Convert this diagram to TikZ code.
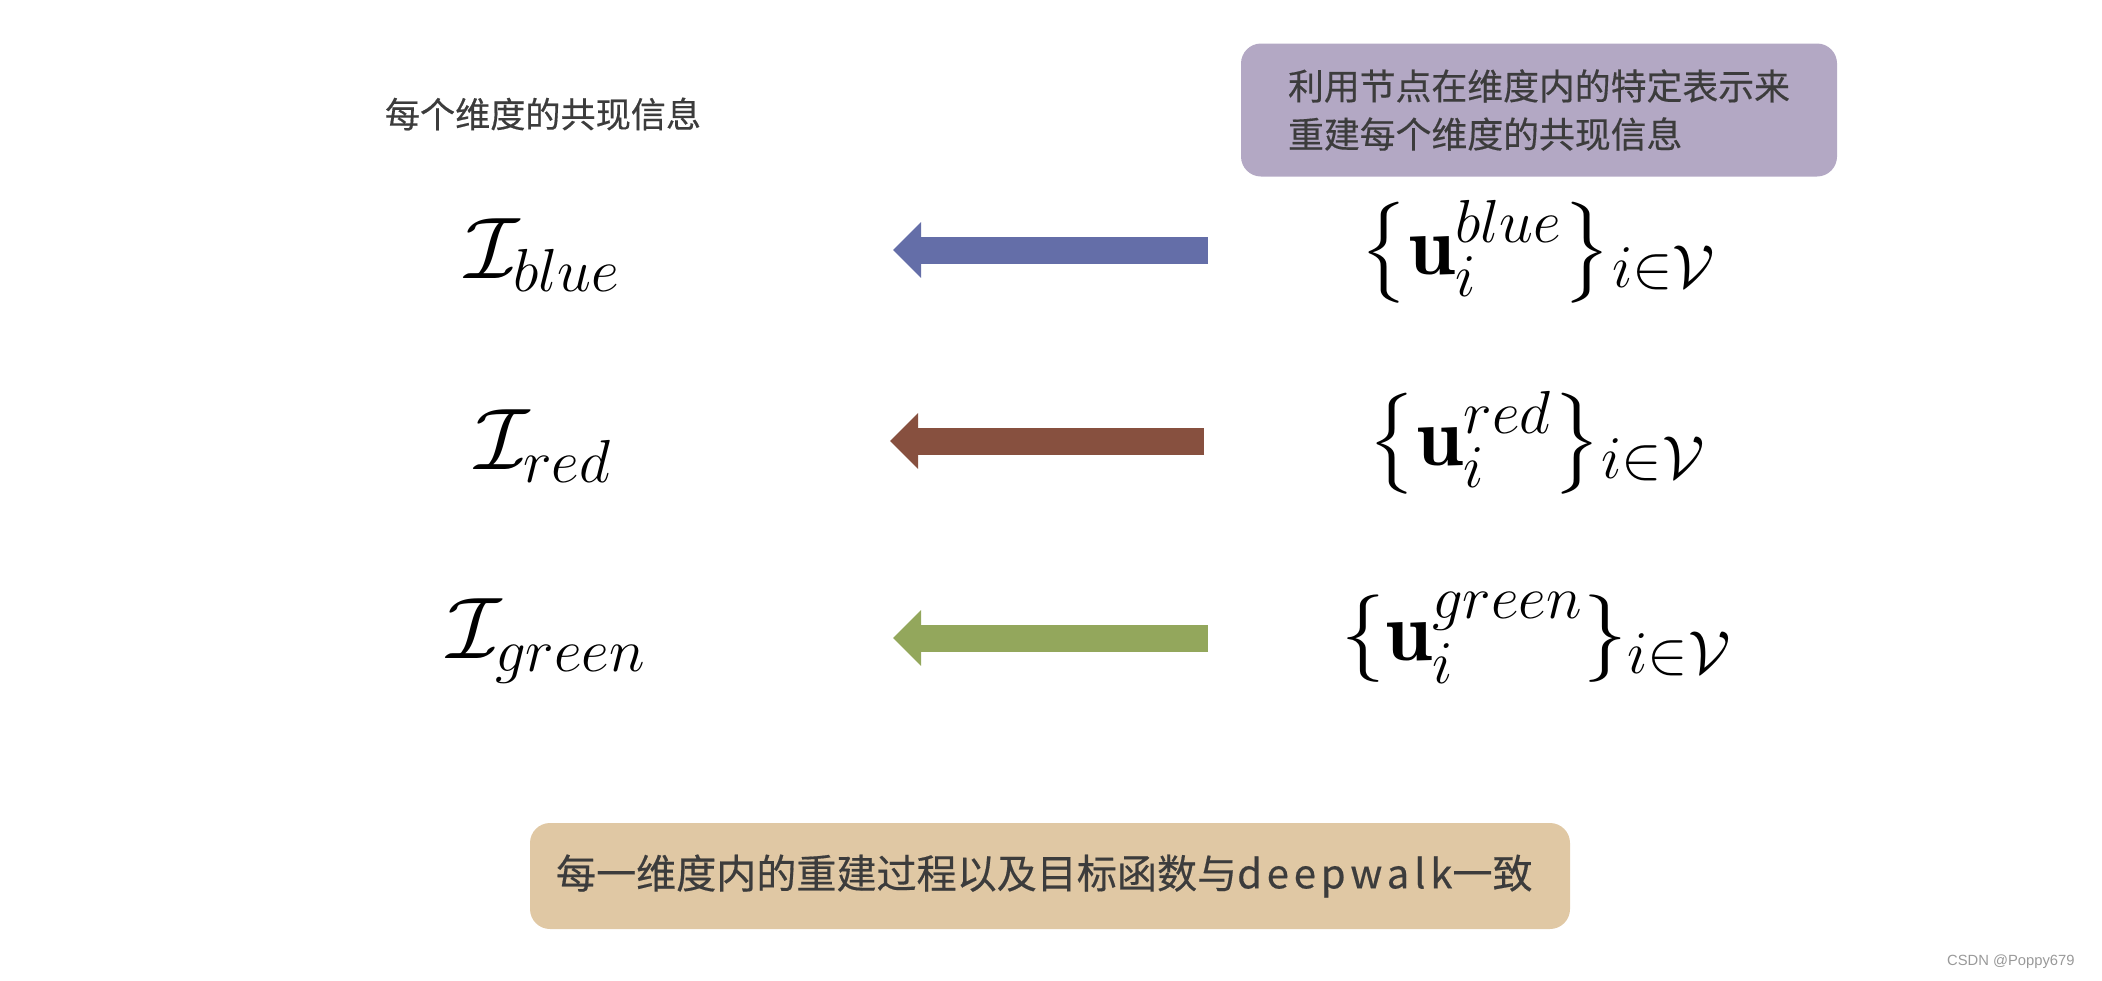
\documentclass[tikz,border=0pt]{standalone}
\usepackage{amsmath,amssymb}
\usepackage{fontspec}
\usepackage{xcolor}
\usetikzlibrary{arrows.meta}
\newfontfamily\cjk[FakeBold=0.4]{Noto Sans CJK SC}
\newfontfamily\wmfont{Liberation Sans}

\definecolor{boxPurple}{HTML}{B3A8C4}
\definecolor{boxTan}{HTML}{E0C8A4}
\definecolor{arrBlue}{HTML}{646EA8}
\definecolor{arrRed}{HTML}{87503F}
\definecolor{arrGreen}{HTML}{93A75C}
\definecolor{txtGray}{HTML}{3C3C3C}

\tikzset{
  bigmath/.style={font=\fontsize{24}{28}\selectfont, inner sep=0pt},
  cnbox/.style={rounded corners=2mm, inner sep=0pt, text=txtGray},
  blockarrow/.style={line width=2.7mm, -{Triangle[length=2.8mm, width=5.4mm]}},
}

\begin{document}
\begin{tikzpicture}
  \useasboundingbox (0,0) rectangle (21.02,9.80);

  % Heading on the left
  \node[font=\cjk\fontsize{10}{12}\selectfont, text=txtGray] (head) at (5.43,8.66) {每个维度的共现信息};

  % Purple note box
  \node[cnbox, fill=boxPurple, minimum width=5.96cm, minimum height=1.33cm, align=left,
        font=\cjk\fontsize{10.2}{13.7}\selectfont] (note) at (15.39,8.70)
        {利用节点在维度内的特定表示来\\重建每个维度的共现信息};

  % Co-occurrence information per dimension
  \node[bigmath] (iBlue) at (5.43,7.25) {$\mathcal{I}_{blue}$};
  \node[bigmath] (iRed) at (5.44,5.34) {$\mathcal{I}_{red}$};
  \node[bigmath] (iGreen) at (5.47,3.39) {$\mathcal{I}_{green}$};

  % Node representations per dimension
  \node[bigmath] (uBlue) at (15.38,7.28) {$\left\{\mathbf{u}_i^{blue}\right\}\mathclose{\vphantom{\mathbf{u}}}_{i\in\mathcal{V}}$};
  \node[bigmath] (uRed) at (15.37,5.37) {$\left\{\mathbf{u}_i^{red}\right\}\mathclose{\vphantom{\mathbf{u}}}_{i\in\mathcal{V}}$};
  \node[bigmath] (uGreen) at (15.37,3.42) {$\left\{\mathbf{u}_i^{green}\right\}\mathclose{\vphantom{\mathbf{u}}}_{i\in\mathcal{V}}$};

  % Block arrows
  \coordinate (blueTail) at (12.08,7.30);
  \coordinate (blueTip) at (8.93,7.30);
  \coordinate (redTail) at (12.04,5.39);
  \coordinate (redTip) at (8.90,5.39);
  \coordinate (greenTail) at (12.08,3.42);
  \coordinate (greenTip) at (8.93,3.42);
  \draw[blockarrow, arrBlue] (blueTail) -- (blueTip);
  \draw[blockarrow, arrRed] (redTail) -- (redTip);
  \draw[blockarrow, arrGreen] (greenTail) -- (greenTip);

  % Tan summary box
  \node[cnbox, fill=boxTan, minimum height=1.06cm, text width=9.88cm, inner xsep=0.26cm, align=left,
        font=\cjk\fontsize{11.4}{14}\selectfont] (summary) at (10.50,1.04)
        {每一维度内的重建过程以及目标函数与{\addfontfeature{LetterSpace=12}deepwalk}一致};

  % Watermark
  \node[anchor=east, font=\wmfont\fontsize{4.2}{5}\selectfont, text=gray!80] (mark) at (20.87,0.18) {CSDN @Poppy679};
\end{tikzpicture}
\end{document}
